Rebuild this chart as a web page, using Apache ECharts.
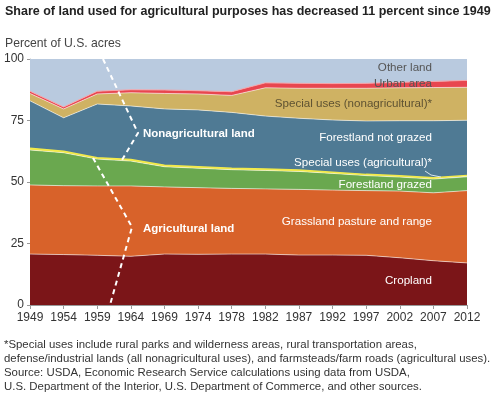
<!DOCTYPE html>
<html>
<head>
<meta charset="utf-8">
<script src="https://cdn.jsdelivr.net/npm/echarts@6/dist/echarts.min.js"></script>
<style>
  html, body { margin: 0; padding: 0; background: #fff; }
  #chart { width: 500px; height: 398px; }
</style>
</head>
<body>
<div id="chart"></div>
<script>
'use strict';

// years on the x axis (evenly spaced, as in the original)
var years = ['1949', '1954', '1959', '1964', '1969', '1974', '1978',
             '1982', '1987', '1992', '1997', '2002', '2007', '2012'];

// share of U.S. acres, percent (stacked from bottom to top)
var cropland       = [20.7, 20.5, 20.2, 19.8, 20.7, 20.6, 20.7, 20.7, 20.3, 20.3, 20.2, 19.2, 18.0, 17.1];
var grassland      = [28.1, 28.0, 28.2, 28.6, 27.3, 27.1, 26.7, 26.5, 26.7, 26.4, 26.3, 27.1, 27.6, 29.4];
var forestGrazed   = [14.2, 13.4, 10.9, 10.1, 8.2, 7.9, 7.6, 7.5, 7.3, 6.8, 6.1, 5.7, 5.6, 5.6];
var specialAg      = [0.7, 0.6, 0.6, 0.6, 0.6, 0.6, 0.6, 0.6, 0.6, 0.5, 0.5, 0.5, 0.5, 0.5];
var forestNotGrazed = [19.3, 13.6, 21.8, 21.8, 22.9, 23.1, 22.7, 21.5, 21.0, 21.2, 21.7, 22.4, 23.2, 22.5];
var specialNonag   = [3.0, 3.6, 4.1, 5.4, 6.3, 6.5, 6.9, 11.5, 12.2, 12.9, 13.3, 13.4, 13.5, 13.4];
var urban          = [0.9, 0.8, 1.1, 1.2, 1.4, 1.3, 1.5, 2.0, 2.0, 1.9, 2.0, 2.2, 2.5, 2.8];
var otherLand      = [13.1, 19.5, 13.1, 12.5, 12.6, 12.9, 13.3, 9.7, 9.9, 10.0, 9.9, 9.5, 9.1, 8.7];

var yTicks = [0, 25, 50, 75, 100];

var FONT = '"Liberation Sans", Arial, Helvetica, sans-serif';

function band(name, data, color, edge, width) {
    return {
        name: name,
        type: 'line',
        stack: 'land',
        data: data,
        symbol: 'none',
        silent: true,
        lineStyle: { color: edge || 'rgba(255,255,255,0.55)', width: width || 1 },
        areaStyle: { color: color, opacity: 1 },
        z: 2
    };
}

// label placed inside a band, right aligned
function bandLabel(text, y, color) {
    return {
        type: 'text',
        right: 68,
        top: y - 7,
        style: { text: text, fill: color, font: '11.6px ' + FONT, textAlign: 'right' },
        z: 10
    };
}

var chart = echarts.init(document.getElementById('chart'));

var options = {
    animation: false,
    title: [{
        text: 'Share of land used for agricultural purposes has decreased 11 percent since 1949',
        left: 5,
        top: 5,
        padding: 0,
        textStyle: { fontFamily: FONT, fontSize: 12.5, fontWeight: 'bold', color: '#222' }
    }, {
        text: 'Percent of U.S. acres',
        left: 5,
        top: 38,
        padding: 0,
        textStyle: { fontFamily: FONT, fontSize: 12.2, fontWeight: 'normal', color: '#444' }
    }],
    grid: { left: 30, right: 33, top: 59, bottom: 93, containLabel: false },
    xAxis: {
        type: 'category',
        data: years,
        boundaryGap: false,
        axisLine: { lineStyle: { color: '#999' } },
        axisTick: { show: true, length: 4, alignWithLabel: true, lineStyle: { color: '#999' } },
        axisLabel: { color: '#333', fontFamily: FONT, fontSize: 12, margin: 7, interval: 0 },
        z: 5
    },
    yAxis: {
        type: 'value',
        min: yTicks[0],
        max: yTicks[yTicks.length - 1],
        interval: 25,
        axisLine: { show: true, lineStyle: { color: '#bbb' } },
        axisTick: { show: true, length: 3, lineStyle: { color: '#999' } },
        axisLabel: { color: '#333', fontFamily: FONT, fontSize: 12, margin: 6 },
        splitLine: { show: false }
    },
    series: [
        band('Cropland', cropland, '#7b1518'),
        band('Grassland pasture and range', grassland, '#d8622a'),
        band('Forestland grazed', forestGrazed, '#6aa84f'),
        band('Special uses (agricultural)*', specialAg, '#eee33c', '#f2ea4a', 1.5),
        band('Forestland not grazed', forestNotGrazed, '#4f7a94'),
        band('Special uses (nonagricultural)*', specialNonag, '#cfb263'),
        band('Urban area', urban, '#e8464f', '#f5a3a8'),
        band('Other land', otherLand, '#b9cadf', 'rgba(255,255,255,0)')
    ],
    graphic: [
        bandLabel('Other land', 69, '#555'),
        bandLabel('Urban area', 85, '#555'),
        bandLabel('Special uses (nonagricultural)*', 105, '#5e5232'),
        bandLabel('Forestland not grazed', 139, '#fff'),
        bandLabel('Special uses (agricultural)*', 164, '#fff'),
        bandLabel('Forestland grazed', 186, '#fff'),
        bandLabel('Grassland pasture and range', 223, '#fff'),
        bandLabel('Cropland', 282, '#fff'),
        // leader line for the thin agricultural special uses band
        {
            type: 'polyline',
            shape: { points: [[425, 171], [431, 175], [441, 177]] },
            style: { stroke: '#d8e4ec', lineWidth: 1, fill: null },
            z: 10
        },
        // dashed brackets for the two groups
        {
            type: 'polyline',
            shape: { points: [[103, 59], [138, 133], [122, 160]] },
            style: { stroke: '#fff', lineWidth: 2, lineDash: [5, 4], fill: null },
            z: 10
        },
        {
            type: 'polyline',
            shape: { points: [[93, 158], [132, 227], [110, 305]] },
            style: { stroke: '#fff', lineWidth: 2, lineDash: [5, 4], fill: null },
            z: 10
        },
        {
            type: 'text',
            left: 143,
            top: 128,
            style: { text: 'Nonagricultural land', fill: '#fff', font: 'bold 11.5px ' + FONT },
            z: 10
        },
        {
            type: 'text',
            left: 143,
            top: 223,
            style: { text: 'Agricultural land', fill: '#fff', font: 'bold 11.5px ' + FONT },
            z: 10
        },
        // footnote and source
        {
            type: 'text',
            left: 4,
            top: 338,
            style: {
                text: '*Special uses include rural parks and wilderness areas, rural transportation areas,\n' +
                      'defense/industrial lands (all nonagricultural uses), and farmsteads/farm roads (agricultural uses).\n' +
                      'Source: USDA, Economic Research Service calculations using data from USDA,\n' +
                      'U.S. Department of the Interior, U.S. Department of Commerce, and other sources.',
                fill: '#333',
                font: '11.4px ' + FONT,
                lineHeight: 14
            }
        }
    ]
};

chart.setOption(options);
</script>
</body>
</html>
